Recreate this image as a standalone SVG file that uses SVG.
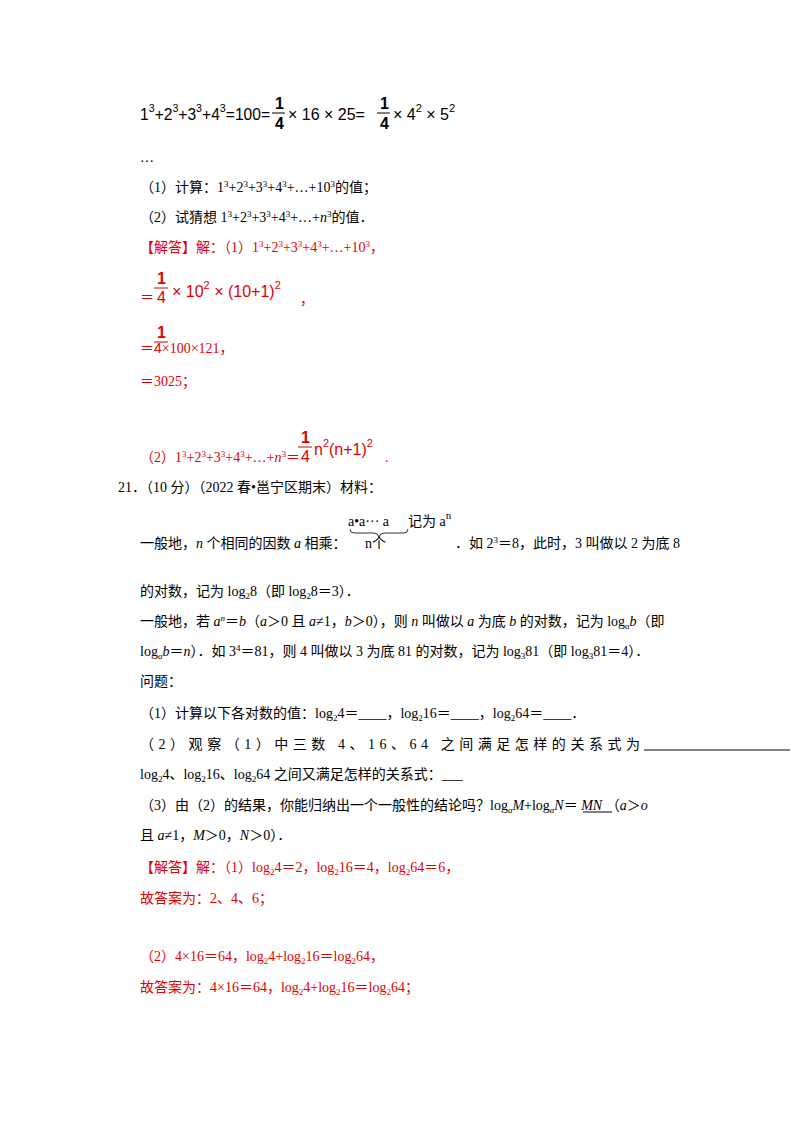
<svg xmlns="http://www.w3.org/2000/svg" width="800" height="1132" viewBox="0 0 800 1132">
<style>
text{font-family:"Liberation Serif","Noto Sans CJK SC",serif;font-size:14px;fill:#000}
.r{fill:#e00000}
.m{font-family:"Liberation Sans","Noto Sans CJK SC",sans-serif;font-size:16px}
.mr{font-family:"Liberation Sans",sans-serif;font-size:16px;fill:#e00000}
.s{font-size:9px}
</style>
<rect width="800" height="1132" fill="#fff"/>
<text class="m" x="140" y="120" textLength="130" lengthAdjust="spacingAndGlyphs">1<tspan dy="-8" font-size="11">3</tspan><tspan dy="8">+2</tspan><tspan dy="-8" font-size="11">3</tspan><tspan dy="8">+3</tspan><tspan dy="-8" font-size="11">3</tspan><tspan dy="8">+4</tspan><tspan dy="-8" font-size="11">3</tspan><tspan dy="8">=100=</tspan></text>
<text class="m" x="275" y="109" font-weight="bold" font-size="14">1</text><line x1="272" y1="113" x2="285" y2="113" stroke="#000"/><text class="m" x="275" y="129" font-size="14" font-weight="bold">4</text>
<text class="m" x="288" y="120">× 16 × 25=</text>
<text class="m" x="380" y="109" font-weight="bold" font-size="14">1</text><line x1="377" y1="113" x2="390" y2="113" stroke="#000"/><text class="m" x="380" y="129" font-size="14" font-weight="bold">4</text>
<text class="m" x="393" y="120">× 4<tspan dy="-8" font-size="11">2</tspan><tspan dy="8"> × 5</tspan><tspan dy="-8" font-size="11">2</tspan></text>
<text x="140" y="162">…</text>
<text x="140" y="192">（1）计算：1<tspan dy="-5" class="s">3</tspan><tspan dy="5">+2</tspan><tspan dy="-5" class="s">3</tspan><tspan dy="5">+3</tspan><tspan dy="-5" class="s">3</tspan><tspan dy="5">+4</tspan><tspan dy="-5" class="s">3</tspan><tspan dy="5">+…+10</tspan><tspan dy="-5" class="s">3</tspan><tspan dy="5">的值；</tspan></text>
<text x="140" y="222">（2）试猜想 1<tspan dy="-5" class="s">3</tspan><tspan dy="5">+2</tspan><tspan dy="-5" class="s">3</tspan><tspan dy="5">+3</tspan><tspan dy="-5" class="s">3</tspan><tspan dy="5">+4</tspan><tspan dy="-5" class="s">3</tspan><tspan dy="5">+…+</tspan><tspan font-style="italic">n</tspan><tspan dy="-5" class="s">3</tspan><tspan dy="5">的值．</tspan></text>
<text class="r" x="140" y="252">【解答】解：（1）1<tspan dy="-5" class="s">3</tspan><tspan dy="5">+2</tspan><tspan dy="-5" class="s">3</tspan><tspan dy="5">+3</tspan><tspan dy="-5" class="s">3</tspan><tspan dy="5">+4</tspan><tspan dy="-5" class="s">3</tspan><tspan dy="5">+…+10</tspan><tspan dy="-5" class="s">3</tspan><tspan dy="5">，</tspan></text>
<text class="r" x="140" y="302">＝</text>
<text class="mr" x="157" y="284" font-weight="bold">1</text><line x1="154" y1="288" x2="168" y2="288" stroke="#e00000"/><text class="mr" x="157" y="303" font-size="14">4</text>
<text class="mr" x="172" y="297">× 10<tspan dy="-8" font-size="11">2</tspan><tspan dy="8"> × (10+1)</tspan><tspan dy="-8" font-size="11">2</tspan></text>
<text class="r" x="300" y="304">，</text>
<text class="mr" x="157" y="338" font-weight="bold">1</text><line x1="154" y1="342" x2="168" y2="342" stroke="#e00000"/>
<text class="r" x="140" y="353">＝<tspan font-size="14" font-family="Liberation Sans">4</tspan>×100×121，</text>
<text class="r" x="140" y="386">＝3025；</text>
<text class="r" x="140" y="462">（2）1<tspan dy="-5" class="s">3</tspan><tspan dy="5">+2</tspan><tspan dy="-5" class="s">3</tspan><tspan dy="5">+3</tspan><tspan dy="-5" class="s">3</tspan><tspan dy="5">+4</tspan><tspan dy="-5" class="s">3</tspan><tspan dy="5">+…+</tspan><tspan font-style="italic">n</tspan><tspan dy="-5" class="s">3</tspan><tspan dy="5">＝</tspan></text>
<text class="mr" x="301" y="443" font-weight="bold">1</text><line x1="298" y1="447" x2="312" y2="447" stroke="#e00000"/><text class="mr" x="301" y="462" font-size="14">4</text>
<text class="mr" x="314" y="455">n<tspan dy="-8" font-size="11">2</tspan><tspan dy="8">(n+1)</tspan><tspan dy="-8" font-size="11">2</tspan></text>
<text class="r" x="385" y="462">.</text>
<text x="118" y="492">21．（10 分）（2022 春•邕宁区期末）材料：</text>
<text x="348" y="526" font-family="Liberation Mono" font-size="12">a•a··· a</text>
<text x="408" y="526" font-size="14">记为 a<tspan dy="-7" font-size="11">n</tspan></text>
<path d="M350,529 q0,4 4,4 h20 q4,0 5,4 q1,-4 5,-4 h20 q4,0 4,-4" fill="none" stroke="#000" stroke-width="0.8"/>
<text x="365" y="548" font-size="11">n个</text>
<text x="140" y="548">一般地，<tspan font-style="italic">n</tspan> 个相同的因数 <tspan font-style="italic">a</tspan> 相乘：</text>
<text x="455" y="548">．如 2<tspan dy="-5" class="s">3</tspan><tspan dy="5">＝8，此时，3 叫做以 2 为底 8</tspan></text>
<text x="140" y="596">的对数，记为 log<tspan dy="3" class="s">2</tspan><tspan dy="-3">8（即 log</tspan><tspan dy="3" class="s">2</tspan><tspan dy="-3">8＝3）．</tspan></text>
<text x="140" y="626">一般地，若 <tspan font-style="italic">a</tspan><tspan dy="-5" class="s" font-style="italic">n</tspan><tspan dy="5">＝</tspan><tspan font-style="italic">b</tspan>（<tspan font-style="italic">a</tspan>＞0 且 <tspan font-style="italic">a</tspan>≠1，<tspan font-style="italic">b</tspan>＞0），则 <tspan font-style="italic">n</tspan> 叫做以 <tspan font-style="italic">a</tspan> 为底 <tspan font-style="italic">b</tspan> 的对数，记为 log<tspan dy="3" class="s" font-style="italic">a</tspan><tspan dy="-3" font-style="italic">b</tspan>（即</text>
<text x="140" y="656">log<tspan dy="3" class="s" font-style="italic">a</tspan><tspan dy="-3" font-style="italic">b</tspan>＝<tspan font-style="italic">n</tspan>）．如 3<tspan dy="-5" class="s">4</tspan><tspan dy="5">＝81，则 4 叫做以 3 为底 81 的对数，记为 log</tspan><tspan dy="3" class="s">3</tspan><tspan dy="-3">81（即 log</tspan><tspan dy="3" class="s">3</tspan><tspan dy="-3">81＝4）．</tspan></text>
<text x="140" y="686">问题：</text>
<text x="140" y="718">（1）计算以下各对数的值：log<tspan dy="3" class="s">2</tspan><tspan dy="-3">4＝____，log</tspan><tspan dy="3" class="s">2</tspan><tspan dy="-3">16＝____，log</tspan><tspan dy="3" class="s">2</tspan><tspan dy="-3">64＝____．</tspan></text>
<text x="140" y="749" textLength="500" lengthAdjust="spacing">（2）观察（1）中三数 4、16、64 之间满足怎样的关系式为</text>
<line x1="644" y1="750" x2="790" y2="750" stroke="#000"/>
<text x="140" y="779">log<tspan dy="3" class="s">2</tspan><tspan dy="-3">4、log</tspan><tspan dy="3" class="s">2</tspan><tspan dy="-3">16、log</tspan><tspan dy="3" class="s">2</tspan><tspan dy="-3">64 之间又满足怎样的关系式：___</tspan></text>
<text x="140" y="810">（3）由（2）的结果，你能归纳出一个一般性的结论吗？log<tspan dy="3" class="s" font-style="italic">a</tspan><tspan dy="-3" font-style="italic">M</tspan>+log<tspan dy="3" class="s" font-style="italic">a</tspan><tspan dy="-3" font-style="italic">N</tspan>＝<tspan font-style="italic">  MN    </tspan>（<tspan font-style="italic">a</tspan>＞<tspan font-style="italic">o</tspan></text>
<line x1="583" y1="812" x2="612" y2="812" stroke="#000"/>
<text x="140" y="840">且 <tspan font-style="italic">a</tspan>≠1，<tspan font-style="italic">M</tspan>＞0，<tspan font-style="italic">N</tspan>＞0）．</text>
<text class="r" x="140" y="872">【解答】解：（1）log<tspan dy="3" class="s">2</tspan><tspan dy="-3">4＝2，log</tspan><tspan dy="3" class="s">2</tspan><tspan dy="-3">16＝4，log</tspan><tspan dy="3" class="s">2</tspan><tspan dy="-3">64＝6，</tspan></text>
<text class="r" x="140" y="903">故答案为：2、4、6；</text>
<text class="r" x="140" y="961">（2）4×16＝64，log<tspan dy="3" class="s">2</tspan><tspan dy="-3">4+log</tspan><tspan dy="3" class="s">2</tspan><tspan dy="-3">16＝log</tspan><tspan dy="3" class="s">2</tspan><tspan dy="-3">64，</tspan></text>
<text class="r" x="140" y="992">故答案为：4×16＝64，log<tspan dy="3" class="s">2</tspan><tspan dy="-3">4+log</tspan><tspan dy="3" class="s">2</tspan><tspan dy="-3">16＝log</tspan><tspan dy="3" class="s">2</tspan><tspan dy="-3">64；</tspan></text>
</svg>
